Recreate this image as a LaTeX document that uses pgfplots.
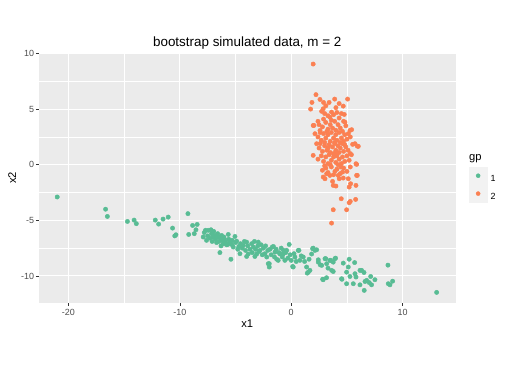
\documentclass[border=0pt]{standalone}
\usepackage{pgfplots}
\pgfplotsset{compat=1.18}
\usepackage{fontspec}
\setmainfont{Liberation Sans}
\definecolor{setgreen}{RGB}{88,188,148}
\definecolor{setorange}{RGB}{251,128,82}
\definecolor{panelbg}{RGB}{235,235,235}
\definecolor{keybg}{RGB}{242,242,242}
\definecolor{gray30}{RGB}{77,77,77}
\definecolor{gray20}{RGB}{51,51,51}
\begin{document}
\begin{tikzpicture}
\useasboundingbox (-38.1pt,-62.3pt) rectangle (465.7pt,298.0pt);
\begin{axis}[
  at={(0pt,0pt)}, anchor=south west,
  scale only axis, width=410.3pt, height=245.9pt,
  xmin=-22.66, xmax=14.76, ymin=-12.42, ymax=10.05,
  axis background/.style={fill=panelbg},
  axis line style={draw=none},
  xtick={-20,-10,0,10}, xticklabels={-20,-10,0,10},
  ytick={-10,-5,0,5,10}, yticklabels={-10,-5,0,5,10},
  minor xtick={-15,-5,5}, minor ytick={-7.5,-2.5,2.5,7.5},
  grid=both,
  major grid style={white, line width=1.07pt},
  minor grid style={white, line width=0.53pt},
  tick align=outside, tick pos=left,
  major tick length=2.75pt, minor tick length=0pt,
  every tick/.style={gray20, line width=0.5pt},
  ticklabel style={font=\fontsize{8.8}{10}\selectfont, text=gray30},
  xticklabel style={inner sep=3.2pt},
  yticklabel style={inner sep=1.6pt},
  legend style={at={(1.0319,0.5453)}, anchor=north west, draw=none, fill=none,
    inner sep=0pt, row sep=0pt, column sep=2.5pt,
    nodes={inner sep=1pt, font=\fontsize{8.8}{10}\selectfont, text=black}},
  legend cell align=left,
  legend image code/.code={
    \fill[keybg] (0pt,-5.5pt) rectangle (17.2pt,11.7pt);
    \fill (8.6pt,3.1pt) circle (2.0pt);
  },
]
\addplot[only marks, mark=*, color=setgreen, mark size=2.15pt, mark options={line width=0.4pt}] coordinates {
(-21.0,-2.9) (-16.66,-4.0) (-16.5,-4.65) (-14.7,-5.1) (-14.1,-4.98) (-13.9,-5.3)
(-12.2,-4.98) (-11.9,-5.34) (-11.5,-4.89) (-11.04,-4.71) (-10.65,-5.7) (-10.35,-6.3)
(-10.45,-6.4) (-9.27,-4.4) (-9.2,-6.27) (-8.85,-5.46) (-8.44,-5.37) (-8.55,-5.85) (-8.7,-6.2)
(-7.9,-6.5) (-7.8,-6.1) (-7.7,-5.9) (-7.6,-6.8) (-7.5,-6.4) (-7.45,-5.9) (-7.3,-6.6)
(-7.2,-5.85) (-7.15,-6.2) (-7.1,-6.9) (-7.0,-6.5) (-6.95,-6.0)
(-6.85,-6.36) (-6.8,-6.7) (-6.7,-7.0) (-6.6,-6.2) (-6.55,-6.5) (-6.5,-6.9) (-6.4,-7.9)
(-6.35,-6.6) (-6.3,-7.3) (-6.25,-6.36) (-6.2,-6.8) (-6.1,-7.1) (-6.05,-6.5) (-6.0,-6.66)
(-5.9,-6.9) (-5.8,-7.2) (-5.7,-7.17) (-5.65,-6.27) (-5.6,-6.7) (-5.5,-7.0) (-5.41,-8.5)
(-5.35,-7.17) (-5.3,-6.8) (-5.2,-7.4) (-5.05,-6.45) (-5.0,-7.0)
(-4.9,-6.87) (-4.8,-7.6) (-4.7,-7.35) (-4.6,-8.0) (-4.55,-7.1) (-4.4,-7.5) (-4.3,-7.26)
(-4.2,-6.9) (-4.1,-7.7) (-4.0,-6.96) (-4.0,-8.25)
(-3.9,-7.3) (-3.86,-8.03) (-3.7,-7.6) (-3.55,-7.1) (-3.5,-7.9) (-3.4,-7.4) (-3.3,-6.9)
(-3.26,-8.25) (-3.2,-7.6) (-3.1,-8.03) (-3.0,-7.3)
(-2.96,-6.96) (-2.9,-7.8) (-2.8,-7.7) (-2.7,-7.2) (-2.6,-8.1) (-2.5,-7.5) (-2.36,-8.0)
(-2.3,-7.3) (-2.2,-8.3) (-2.1,-7.7) (-2.06,-8.9) (-1.97,-9.2) (-1.97,-8.9)
(-1.9,-7.6) (-1.8,-8.1) (-1.7,-7.4) (-1.6,-7.35) (-1.5,-8.3) (-1.46,-7.86) (-1.35,-7.6)
(-1.3,-8.5) (-1.17,-8.6) (-1.1,-7.9) (-1.0,-8.03)
(-0.9,-7.5) (-0.8,-8.3) (-0.72,-8.03) (-0.7,-7.7) (-0.57,-8.6) (-0.5,-7.9) (-0.41,-7.7)
(-0.3,-8.4) (-0.18,-7.17) (-0.1,-8.1) (0.0,-8.6)
(0.13,-9.15) (0.18,-9.2) (0.25,-8.0) (0.33,-8.3) (0.45,-8.7) (0.63,-7.7) (0.69,-7.7)
(0.78,-8.6) (0.9,-8.2) (1.08,-8.3)
(1.2,-8.7) (1.38,-9.2) (1.44,-9.75) (1.53,-9.66) (1.6,-8.5) (1.68,-9.5) (1.83,-8.03)
(1.92,-7.55) (1.97,-7.5)
(2.13,-7.7) (2.28,-7.65) (2.43,-8.76) (2.43,-8.55) (2.6,-9.0) (2.73,-9.05) (2.82,-10.3)
(2.87,-10.34) (3.03,-8.45)
(3.1,-8.45) (3.17,-10.16) (3.18,-8.9) (3.3,-9.3) (3.47,-8.6) (3.54,-8.6) (3.63,-9.5)
(3.77,-8.76) (3.77,-9.6) (3.92,-8.45) (3.98,-8.4)
(4.52,-10.25) (4.55,-10.3) (4.67,-8.85) (4.97,-9.66) (4.97,-10.7) (5.12,-9.2) (5.2,-8.5)
(5.27,-10.05)
(5.57,-10.7) (5.69,-8.8) (5.72,-9.8) (5.81,-10.1) (6.17,-9.5) (6.17,-10.8) (6.32,-9.5)
(6.53,-9.69) (6.55,-11.3) (6.62,-10.5) (6.77,-10.4) (7.0,-10.6) (7.13,-10.05) (7.21,-10.8)
(7.51,-10.34)
(8.68,-9.03) (8.71,-10.7) (8.86,-10.8) (9.1,-10.47) (13.05,-11.48)
};
\addlegendentry{1}
\addplot[only marks, mark=*, color=setorange, mark size=2.15pt, mark options={line width=0.4pt}] coordinates {
(1.97,9.05) (2.22,6.3) (1.86,5.6) (1.74,5.0) (2.58,5.87) (5.06,5.9) (4.67,5.27) (3.11,5.3)
(2.87,5.03) (2.73,4.8) (4.01,5.13) (3.62,4.73) (3.47,4.28) (4.76,4.52) (4.82,3.83)
(1.97,3.53) (2.04,3.53) (2.13,2.79) (2.58,3.08) (5.27,3.08) (5.42,3.15) (5.12,2.79)
(5.51,1.83) (5.93,1.67) (6.02,1.65) (5.72,1.89) (2.28,1.89) (1.97,0.84) (5.87,0.03)
(5.81,0.09) (5.87,-0.96) (3.62,-5.25) (3.77,-4.05) (4.97,-4.05) (5.2,-3.42) (5.3,-3.3)
(5.78,-3.12) (4.49,-3.06) (5.81,-1.86) (5.93,-0.96) (5.2,-2.01) (5.33,-1.71) (5.12,-1.26)
(4.67,-1.2) (3.77,-1.86) (4.01,-1.92) (3.71,-1.5) (3.03,-1.26) (2.87,-1.11) (3.18,-0.81)
(3.47,-0.96) (3.92,-0.6) (4.22,-0.96) (4.61,-0.66) (4.31,-1.26) (3.11,-0.3) (4.46,-0.21)
(3.0,4.6) (3.3,4.4) (3.8,4.5) (4.1,4.7) (4.3,4.2) (4.5,4.6) (3.6,4.0) (2.9,4.1)
(2.5,3.6) (2.8,3.4) (3.1,3.8) (3.3,3.2) (3.5,3.6) (3.7,3.3) (3.9,3.9) (4.0,3.1) (4.2,3.6)
(4.4,3.3) (4.6,3.0) (4.9,3.5) (3.2,3.0) (2.4,3.9) (4.7,3.9)
(2.4,2.5) (2.7,2.2) (2.9,2.8) (3.1,2.4) (3.3,2.7) (3.5,2.1) (3.6,2.9) (3.8,2.4) (4.0,2.7)
(4.1,2.2) (4.3,2.9) (4.5,2.4) (4.7,2.1) (4.8,2.7) (5.0,2.3) (3.0,2.0) (3.9,2.0) (4.4,2.0)
(5.3,2.5) (2.6,2.9)
(2.5,1.5) (2.8,1.2) (3.0,1.7) (3.2,1.3) (3.4,1.8) (3.5,1.1) (3.7,1.6) (3.8,1.0) (3.9,1.9)
(4.0,1.3) (4.2,1.7) (4.3,1.1) (4.4,1.5) (4.6,1.9) (4.7,1.2) (4.9,1.6) (5.1,1.3) (5.3,1.0)
(2.6,1.9) (3.3,1.5) (4.1,1.0) (4.8,1.8)
(2.4,0.5) (2.7,0.8) (2.9,0.3) (3.1,0.7) (3.3,0.1) (3.4,0.9) (3.6,0.4) (3.8,0.7) (4.0,0.2)
(4.1,0.8) (4.3,0.5) (4.5,0.1) (4.6,0.7) (4.8,0.3) (5.0,0.8) (5.2,0.4) (5.4,0.9) (3.5,0.0)
(4.2,0.0)
(2.8,-0.5) (3.3,-0.7) (3.6,-0.2) (3.8,-0.9) (4.1,-0.4) (4.4,-0.8) (4.7,-0.3) (5.0,-0.6)
(5.3,-0.2) (3.0,-0.1)
(3.4,5.6) (3.9,5.9) (4.3,5.5) (2.9,5.6)
};
\addlegendentry{2}
\end{axis}
\node[anchor=base, font=\fontsize{13.2}{15}\selectfont] at (205.2pt,252.6pt) {bootstrap simulated data, m = 2};
\node[anchor=base, font=\fontsize{11}{13}\selectfont] at (205.2pt,-24.6pt) {x1};
\node[anchor=base, rotate=90, font=\fontsize{11}{13}\selectfont] at (-22.3pt,122.95pt) {x2};
\node[anchor=base west, inner sep=0pt, font=\fontsize{11}{13}\selectfont] at (423.4pt,140.4pt) {gp};
\end{tikzpicture}
\end{document}
